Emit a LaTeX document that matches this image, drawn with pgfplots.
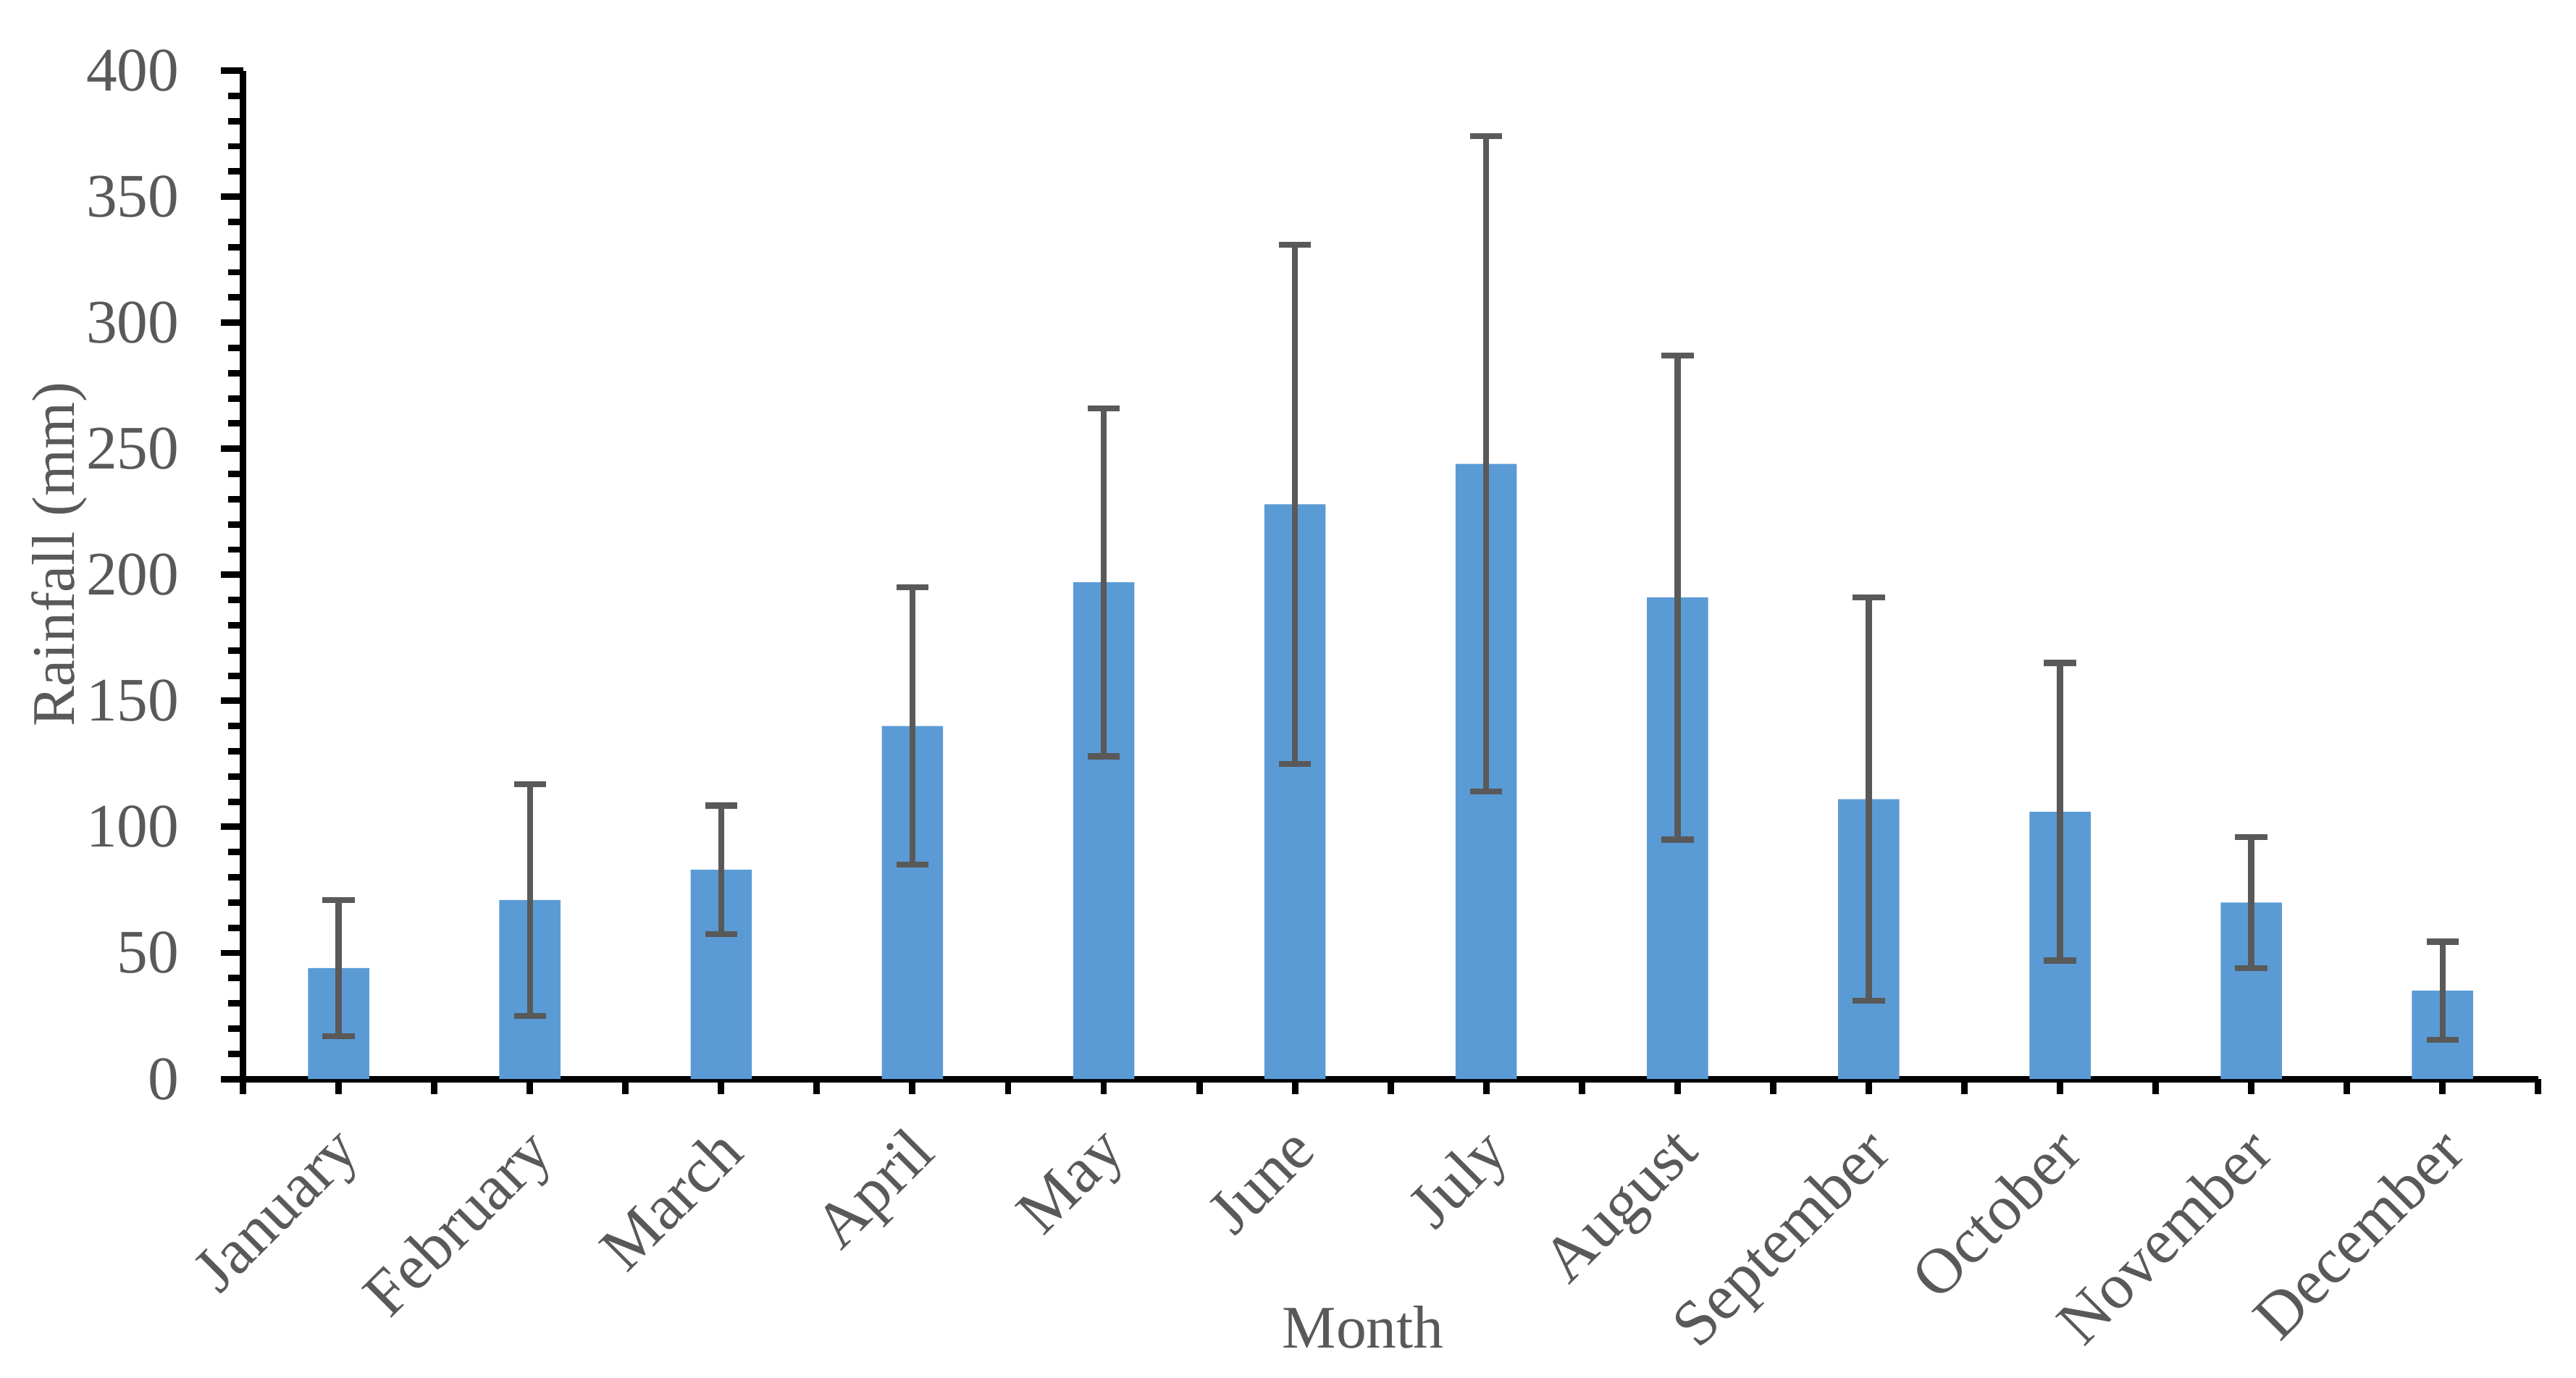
\documentclass[border=0pt]{standalone}
\usepackage{pgfplots}
\pgfplotsset{compat=1.18}
\usepackage{fontspec}
\setmainfont{Liberation Serif}
\definecolor{barblue}{HTML}{5B9BD5}
\definecolor{txtgray}{HTML}{595959}
\begin{document}
\begin{tikzpicture}
\path[use as bounding box] (-37.74pt,-46.41pt) rectangle (362.27pt,167.57pt);
\begin{axis}[
  at={(0,0)}, anchor=south west,
  scale only axis,
  width=356.4pt, height=156.6pt,
  xmin=-0.5, xmax=11.5,
  ymin=0, ymax=400,
  axis x line*=bottom, axis y line*=left,
  axis line style={line width=1pt, black},
  tick align=outside,
  tick style={line width=1pt, black},
  major tick length=3.4pt,
  minor tick length=2.3pt,
  ytick={0,50,...,400},
  minor y tick num=4,
  xtick={0,...,11},
  xticklabels={January,February,March,April,May,June,July,August,September,October,November,December},
  x tick style={/pgfplots/major tick length=2.3pt},
  extra x ticks={-0.5,0.5,...,11.5},
  extra x tick labels={},
  extra x tick style={tick style={line width=1pt}, /pgfplots/major tick length=3.4pt},
  font=\fontsize{10}{12}\selectfont,
  tick label style={text=txtgray, font=\fontsize{10}{12}\selectfont},
  yticklabel style={font=\fontsize{9.6}{12}\selectfont, xshift=-3pt},
  xticklabel style={rotate=45, anchor=north east, font=\fontsize{10}{12}\selectfont, yshift=1.75pt, xshift=0.25pt},
  /pgf/number format/assume math mode=true,
  xlabel={Month},
  ylabel={Rainfall (mm)},
  label style={text=txtgray, font=\fontsize{9.4}{12}\selectfont},
  xlabel style={at={(axis description cs:0.488,0)}, anchor=center, yshift=-38.5pt},
  ylabel style={at={(axis description cs:-0.08,0.52)}, anchor=center},
  clip=false,
]
\addplot[ybar, bar width=0.32, fill=barblue, draw=none,
  error bars/.cd, y dir=both, y explicit,
  error bar style={line width=0.95pt, txtgray},
  error mark options={rotate=90, line width=0.95pt, txtgray, mark size=2.5pt}]
coordinates {
 (0,44) +- (0,27)
 (1,71) +- (0,46)
 (2,83) +- (0,25.5)
 (3,140) +- (0,55)
 (4,197) +- (0,69)
 (5,228) +- (0,103)
 (6,244) +- (0,130)
 (7,191) +- (0,96)
 (8,111) +- (0,80)
 (9,106) +- (0,59)
 (10,70) +- (0,26)
 (11,35) +- (0,19.5)
};
\end{axis}
\end{tikzpicture}
\end{document}
